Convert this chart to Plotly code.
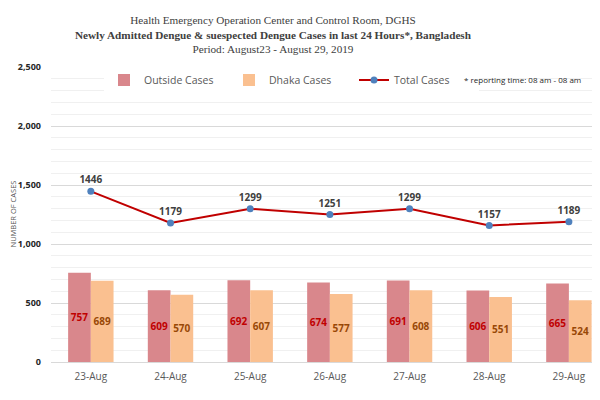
import plotly.graph_objects as go

dates = ["23-Aug", "24-Aug", "25-Aug", "26-Aug", "27-Aug", "28-Aug", "29-Aug"]
outside_cases = [757, 609, 692, 674, 691, 606, 665]
dhaka_cases = [689, 570, 607, 577, 608, 551, 524]
total_cases = [1446, 1179, 1299, 1251, 1299, 1157, 1189]
y_ticks = [0, 500, 1000, 1500, 2000, 2500]

FONT = "Open Sans"
OFF = 8  # page body margin offset
W, H = 600 - 2 * OFF, 400 - OFF
L, R, T, B = 51 - OFF, 0, 67 - OFF, H - (362 - OFF)
PW = W - L - R
PH = H - T - B

fig = go.Figure()
fig.add_trace(go.Bar(
    x=dates, y=outside_cases, name="Outside Cases",
    marker=dict(color="#D9878C", line=dict(width=0)),
    text=[str(v) for v in outside_cases], textposition="inside", textangle=0,
    insidetextanchor="middle", constraintext="none",
    textfont=dict(color="#C00000", size=10, family=FONT, weight="bold"),
))
fig.add_trace(go.Bar(
    x=dates, y=dhaka_cases, name="Dhaka Cases",
    marker=dict(color="#FAC090", line=dict(width=0)),
    text=[str(v) for v in dhaka_cases], textposition="inside", textangle=0,
    insidetextanchor="middle", constraintext="none",
    textfont=dict(color="#984807", size=10, family=FONT, weight="bold"),
))
fig.add_trace(go.Scatter(
    x=dates, y=total_cases, name="Total Cases", mode="lines+markers+text",
    line=dict(color="#C00000", width=2),
    marker=dict(color="#4F81BD", size=7),
    text=[str(v) for v in total_cases], textposition="top center",
    textfont=dict(color="#404040", size=10, family=FONT, weight="bold"),
))

fig.update_layout(
    width=W, height=H,
    margin=dict(l=L, r=R, t=T, b=B, autoexpand=False),
    paper_bgcolor="white", plot_bgcolor="white",
    barmode="group", bargap=0.43, bargroupgap=0,
    font=dict(family=FONT, color="#595959"),
    showlegend=True,
    legend=dict(
        orientation="h", x=(112 - 16 - L) / PW, y=1 - 13 / PH, xanchor="left", yanchor="middle",
        bgcolor="white", font=dict(size=10.5, color="#595959", family=FONT),
        entrywidth=80, traceorder="normal",
    ),
    annotations=[
        dict(text="Health Emergency Operation Center and Control Room, DGHS<br>"
                  "<b>Newly Admitted Dengue &amp; suespected Dengue Cases in last 24 Hours*, Bangladesh</b><br>"
                  "Period: August23 - August 29, 2019",
             x=(273 - OFF - L) / PW, xref="paper", y=1 + 10 / PH, yref="paper", yanchor="bottom",
             showarrow=False, align="center",
             font=dict(family="Liberation Serif", size=11.2, color="#404040")),
        dict(text="* reporting time: 08 am - 08 am", x=(462 - OFF - L) / PW, xref="paper",
             y=1 - 13 / PH, yref="paper",
             xanchor="left", yanchor="middle", showarrow=False,
             font=dict(family=FONT, size=8, color="#262626")),
        dict(text="NUMBER OF CASES", x=-(L - 4) / PW, xref="paper", y=0.5, yref="paper",
             textangle=-90, showarrow=False, xanchor="center", yanchor="middle",
             font=dict(family=FONT, size=7.5, color="#595959")),
    ],
    xaxis=dict(
        type="category", range=[-0.5, 6.29], automargin=False,
        showgrid=False, showline=True, linecolor="#D9D9D9", linewidth=1,
        tickfont=dict(size=10, color="#595959", family=FONT), ticks="",
        ticklabelstandoff=5,
    ),
    yaxis=dict(
        range=[0, 2500], tickvals=y_ticks, tickformat=",", automargin=False,
        showgrid=True, gridcolor="#D9D9D9", gridwidth=1,
        minor=dict(dtick=100, showgrid=True, gridcolor="#F0F0F0", gridwidth=1),
        zeroline=False, ticklabelstandoff=9,
        tickfont=dict(size=9, color="#262626", family=FONT, weight="bold"),
    ),
)
fig.write_html("out.html")
